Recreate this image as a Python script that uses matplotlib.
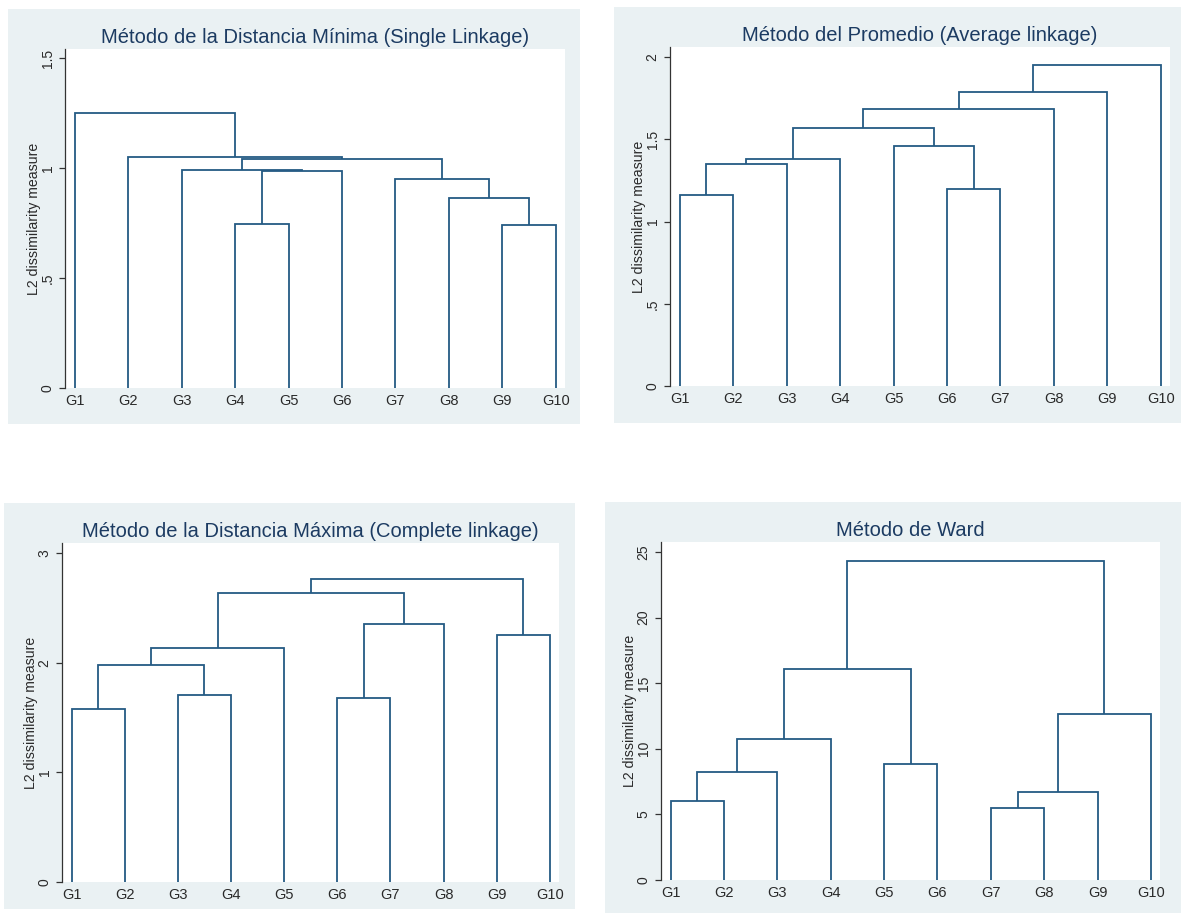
import matplotlib.pyplot as plt
from matplotlib.patches import Rectangle

plt.rcParams['font.family'] = ['Liberation Sans', 'DejaVu Sans']

# leaves, in the order they are drawn
groups = ["G1", "G2", "G3", "G4", "G5", "G6", "G7", "G8", "G9", "G10"]

# merges: node ids 0-9 are the leaves, each merge creates node 10, 11, ...
single_left = [3, 8, 7, 6, 10, 2, 15, 1, 0]
single_right = [4, 9, 11, 12, 5, 14, 13, 16, 17]
single_height = [0.745, 0.74, 0.862, 0.95, 0.986, 0.989, 1.039, 1.048, 1.25]

average_left = [0, 10, 11, 5, 4, 12, 15, 16, 17]
average_right = [1, 2, 3, 6, 13, 14, 7, 8, 9]
average_height = [1.163, 1.35, 1.378, 1.196, 1.457, 1.568, 1.686, 1.785, 1.951]

complete_left = [0, 2, 10, 12, 5, 14, 13, 8, 16]
complete_right = [1, 3, 11, 4, 6, 7, 15, 9, 17]
complete_height = [1.574, 1.702, 1.976, 2.134, 1.675, 2.353, 2.635, 2.249, 2.766]

ward_left = [0, 10, 11, 4, 12, 6, 15, 16, 14]
ward_right = [1, 2, 3, 5, 13, 7, 8, 9, 17]
ward_height = [6.015, 8.2, 10.74, 8.81, 16.07, 5.46, 6.70, 12.66, 24.32]

titles = ["Método de la Distancia Mínima (Single Linkage)",
          "Método del Promedio (Average linkage)",
          "Método de la Distancia Máxima (Complete linkage)",
          "Método de Ward"]
yticks = [[0, 0.5, 1, 1.5], [0, 0.5, 1, 1.5, 2], [0, 1, 2, 3], [0, 5, 10, 15, 20, 25]]
yticklabels = [["0", ".5", "1", "1.5"], ["0", ".5", "1", "1.5", "2"],
               ["0", "1", "2", "3"], ["0", "5", "10", "15", "20", "25"]]

BG = "#EAF1F3"
LINE = "#245A84"
TITLE = "#1C3B62"
W, H = 1181, 913

fig = plt.figure(figsize=(W / 100, H / 100), dpi=100)
fig.patch.set_facecolor("white")

# panel background boxes and plot areas, in pixels (x0, x1, y_top, y_bottom)
panels = [(8, 580, 9, 424), (614, 1181, 7, 423), (4, 575, 503, 909), (605, 1181, 502, 913)]
plots = [(65, 565, 49, 388), (670, 1170, 47, 386), (62, 559, 543, 882), (661, 1160, 542, 880)]
ymax = [1.541, 2.061, 3.091, 25.76]


def draw_dendro(ax, left, right, heights):
    pos = list(range(1, len(groups) + 1))
    hts = [0.0] * len(groups)
    for l, r, h in zip(left, right, heights):
        xl, xr = pos[l], pos[r]
        ax.plot([xl, xl, xr, xr], [hts[l], h, h, hts[r]], color=LINE, lw=1.3,
                solid_joinstyle="miter", solid_capstyle="butt")
        pos.append((xl + xr) / 2)
        hts.append(h)


data = [(single_left, single_right, single_height),
        (average_left, average_right, average_height),
        (complete_left, complete_right, complete_height),
        (ward_left, ward_right, ward_height)]

for i in range(4):
    x0, x1, yt, yb = panels[i]
    fig.patches.append(Rectangle((x0 / W, 1 - yb / H), (x1 - x0) / W, (yb - yt) / H,
                                 transform=fig.transFigure, facecolor=BG,
                                 edgecolor="none", zorder=-10))
    px0, px1, pyt, pyb = plots[i]
    ax = fig.add_axes([px0 / W, 1 - pyb / H, (px1 - px0) / W, (pyb - pyt) / H])
    ax.set_facecolor("white")
    draw_dendro(ax, *data[i])
    ax.set_xlim(0.82, 10.17)
    ax.set_ylim(0, ymax[i])
    ax.set_xticks(range(1, 11))
    ax.set_xticklabels(groups, fontsize=10.5, color="#2a2a2a")
    ax.tick_params(axis="x", length=0, pad=4)
    ax.set_yticks(yticks[i])
    ax.set_yticklabels(yticklabels[i], rotation=90, va="center", fontsize=10,
                       color="#2a2a2a")
    ax.tick_params(axis="y", length=4.5, width=0.9, color="#333333", pad=3)
    for s in ["top", "right", "bottom"]:
        ax.spines[s].set_visible(False)
    ax.spines["left"].set_color("#333333")
    ax.spines["left"].set_linewidth(0.9)
    ax.set_ylabel("L2 dissimilarity measure", fontsize=10.2, color="#2a2a2a")
    ax.yaxis.set_label_coords(-0.048, 0.5)
    ax.set_title(titles[i], fontsize=14.5, color=TITLE, pad=4)

fig.savefig("out.png", dpi=100)
